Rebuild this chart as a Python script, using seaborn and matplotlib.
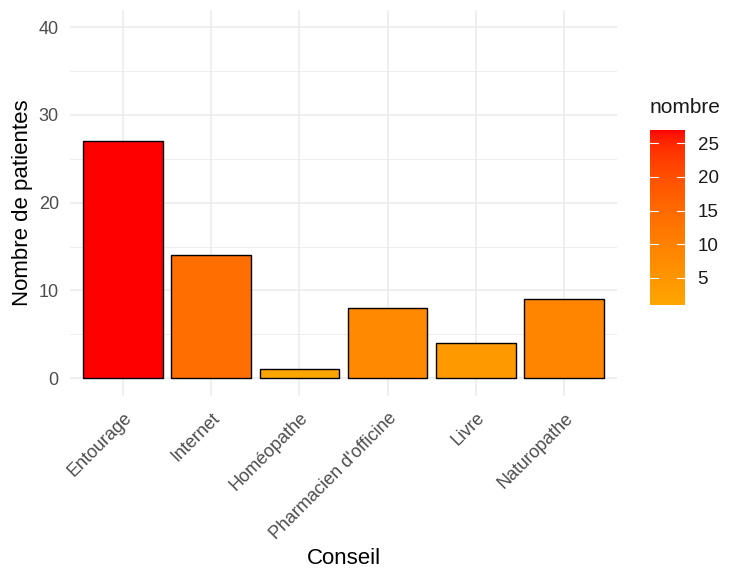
import numpy as np
import pandas as pd
import matplotlib
matplotlib.use("Agg")
import matplotlib.pyplot as plt
import seaborn as sns
from matplotlib.colors import LinearSegmentedColormap, Normalize, to_rgb
from matplotlib.cm import ScalarMappable

conseil = ["Entourage", "Internet", "Homéopathe", "Pharmacien d'officine", "Livre", "Naturopathe"]
nombre = [27, 14, 1, 8, 4, 9]
low_col = "#FFA500"
high_col = "#FF0000"


# gradient in CIELAB space, like ggplot's scale_fill_gradient
def srgb_to_lab(c):
    c = np.asarray(c, float)
    lin = np.where(c <= 0.04045, c / 12.92, ((c + 0.055) / 1.055) ** 2.4)
    m = np.array([[0.4124, 0.3576, 0.1805], [0.2126, 0.7152, 0.0722], [0.0193, 0.1192, 0.9505]])
    xyz = m @ lin / np.array([0.95047, 1.0, 1.08883])
    f = np.where(xyz > 0.008856, np.cbrt(xyz), 7.787 * xyz + 16 / 116)
    return np.array([116 * f[1] - 16, 500 * (f[0] - f[1]), 200 * (f[1] - f[2])])


def lab_to_srgb(lab):
    fy = (lab[0] + 16) / 116
    fx = fy + lab[1] / 500
    fz = fy - lab[2] / 200
    f = np.array([fx, fy, fz])
    xyz = np.where(f ** 3 > 0.008856, f ** 3, (f - 16 / 116) / 7.787) * np.array([0.95047, 1.0, 1.08883])
    m = np.array([[3.2406, -1.5372, -0.4986], [-0.9689, 1.8758, 0.0415], [0.0557, -0.2040, 1.0570]])
    lin = m @ xyz
    c = np.where(lin <= 0.0031308, 12.92 * lin, 1.055 * np.clip(lin, 0, None) ** (1 / 2.4) - 0.055)
    return np.clip(c, 0, 1)


lab_lo = srgb_to_lab(to_rgb(low_col))
lab_hi = srgb_to_lab(to_rgb(high_col))
steps = np.linspace(0, 1, 64)
cmap = LinearSegmentedColormap.from_list(
    "ggrad", [(t, lab_to_srgb(lab_lo + t * (lab_hi - lab_lo))) for t in steps])
norm = Normalize(vmin=min(nombre), vmax=max(nombre))

df = pd.DataFrame({"Conseil": conseil, "nombre": nombre})
bar_colors = [cmap(norm(v)) for v in nombre]

plt.rcParams["font.family"] = ["Liberation Sans", "DejaVu Sans"]
fig = plt.figure(figsize=(7.32, 5.72), dpi=100)
ax = fig.add_axes([0.0956, 0.3084, 0.7474, 0.6746])

sns.barplot(data=df, x="Conseil", y="nombre", hue="Conseil", palette=bar_colors,
            legend=False, edgecolor="black", linewidth=1.0, width=0.9, saturation=1, ax=ax)

ax.set_xlim(-0.6, len(conseil) - 0.4)
ax.set_ylim(-2, 42)
ax.set_yticks([0, 10, 20, 30, 40])
ax.set_yticks([5, 15, 25, 35], minor=True)
ax.grid(True, which="major", color="#EBEBEB", linewidth=1.1)
ax.grid(True, which="minor", axis="y", color="#EBEBEB", linewidth=0.6)
ax.set_axisbelow(True)
for s in ax.spines.values():
    s.set_visible(False)
ax.tick_params(which="both", length=0, colors="#4D4D4D", labelsize=13)
ax.tick_params(axis="y", pad=8)
ax.tick_params(axis="x", pad=10)
plt.setp(ax.get_xticklabels(), rotation=45, ha="right", rotation_mode="anchor")
ax.set_xlabel("Conseil", fontsize=16, labelpad=4)
ax.set_ylabel("Nombre de patientes", fontsize=16, labelpad=4)

# colour bar legend
cax = fig.add_axes([0.888, 0.467, 0.048, 0.306])
cb = fig.colorbar(ScalarMappable(norm=norm, cmap=cmap), cax=cax, ticks=[5, 10, 15, 20, 25])
cb.outline.set_visible(False)
cax.tick_params(length=0, labelsize=13.5, colors="#1A1A1A", pad=9)
for t in [5, 10, 15, 20, 25]:
    cax.plot([0, 0.22], [t, t], color="white", linewidth=0.8)
    cax.plot([0.78, 1], [t, t], color="white", linewidth=0.8)
cax.set_xlim(0, 1)
fig.text(0.888, 0.795, "nombre", fontsize=15, color="#1A1A1A", ha="left", va="bottom")

fig.savefig("out.png", dpi=100)
